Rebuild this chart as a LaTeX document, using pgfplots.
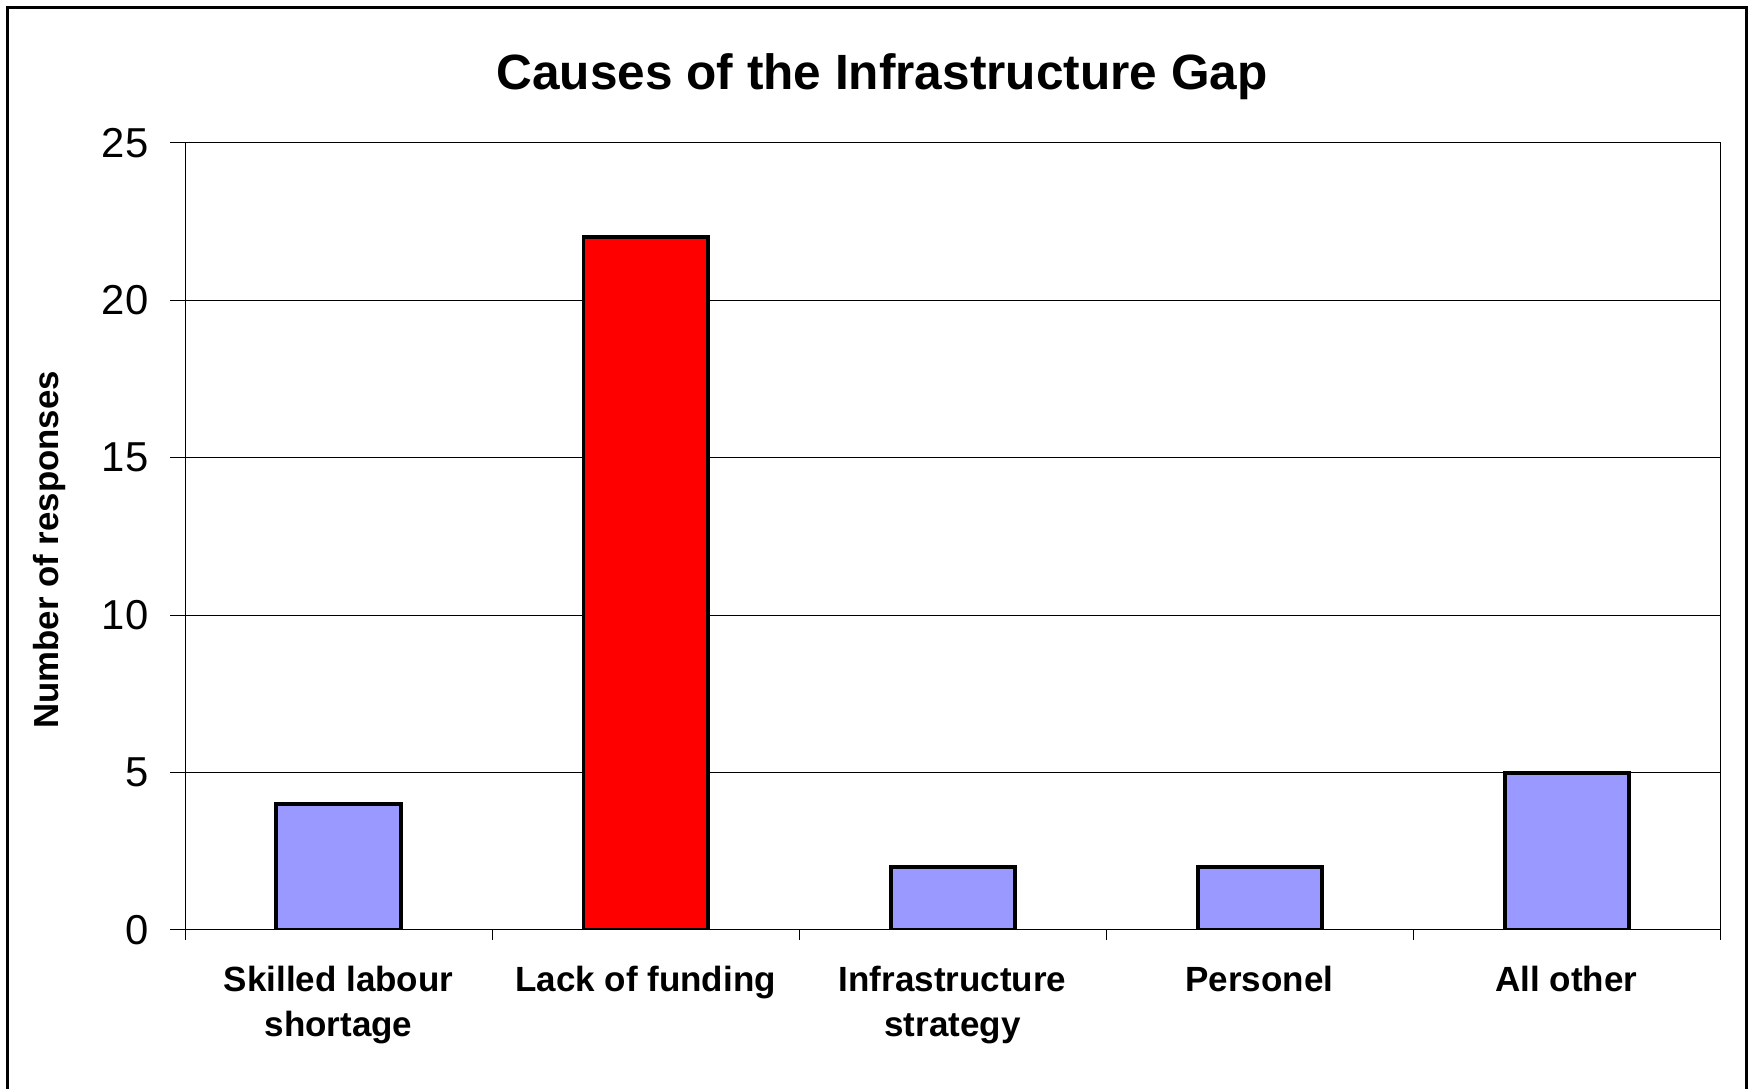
\documentclass[border=0pt]{standalone}
\usepackage{pgfplots}
\pgfplotsset{compat=1.18}
\usepackage{fontspec}
\setmainfont{Liberation Sans}
\definecolor{barblue}{RGB}{153,153,255}
\definecolor{barred}{RGB}{255,0,0}
\begin{document}
\begin{tikzpicture}
\path[use as bounding box] (0,0) rectangle (17.55,10.89);
% outer chart frame (bottom edge lies below the page)
\draw[line width=0.03cm] (0.077,-0.5) -- (0.077,10.813) -- (17.465,10.813) -- (17.465,-0.5);
\node[anchor=base, font=\fontsize{14.1}{17}\selectfont\bfseries] at (8.82,9.99) {Causes of the Infrastructure Gap};
\begin{axis}[
    at={(1.85cm,1.59cm)}, anchor=south west,
    scale only axis,
    width=15.35cm, height=7.87cm,
    ybar, bar width=1.24cm, bar shift=0pt,
    xmin=-0.5, xmax=4.5,
    ymin=0, ymax=25,
    ytick={0,5,10,15,20,25},
    xtick={0,1,2,3,4},
    xticklabels={{Skilled labour\\shortage},{Lack of funding},{Infrastructure\\strategy},{Personel},{All other}},
    minor xtick={-0.5,0.5,1.5,2.5,3.5,4.5},
    major x tick style={draw=none},
    tick align=outside,
    major tick length=0.15cm,
    minor tick length=0.1cm,
    ytick pos=left, xtick pos=bottom,
    ymajorgrids,
    grid style={black, line width=0.01cm},
    axis line style={line width=0.01cm},
    every tick/.style={black, line width=0.01cm},
    /pgf/number format/assume math mode=true,
    yticklabel style={font=\fontsize{11.9}{14}\selectfont, inner sep=0pt, xshift=-0.21cm},
    xticklabel style={font=\fontsize{9.96}{13}\selectfont\bfseries, align=center, anchor=north, inner sep=0pt, yshift=-0.2cm},
    ylabel={Number of responses},
    ylabel style={font=\fontsize{9.9}{12}\selectfont\bfseries, at={(axis description cs:-0.088,0.483)}, anchor=center},
]
\addplot[draw=black, line width=0.04cm, fill=barblue] coordinates {(0,4) (2,2) (3,2) (4,5)};
\addplot[draw=black, line width=0.04cm, fill=barred] coordinates {(1,22)};
\end{axis}
\end{tikzpicture}
\end{document}
